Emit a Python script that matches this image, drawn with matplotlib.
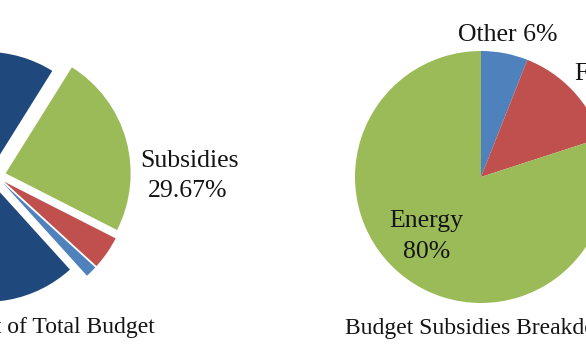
import matplotlib
matplotlib.use("Agg")
import matplotlib.pyplot as plt

W, H = 586, 346
plt.rcParams['font.family'] = ['Liberation Serif', 'DejaVu Serif']

# Left pie: share of total budget (slice sizes as drawn, %)
left_names = ["Subsidies", "Other A", "Other B", "Rest"]
left_shares = [23.6, 4.3, 1.5, 70.6]
left_colors = ["#9BBB59", "#C0504D", "#4F81BD", "#1F497D"]
left_explode = [0.08, 0.08, 0.08, 0.08]
subsidies_label = "Subsidies\n29.67%"
left_title = "Subsidies as Percent of Total Budget"

# Right pie: budget subsidies breakdown (%)
right_names = ["Other", "Food", "Energy"]
right_shares = [6, 14, 80]
right_colors = ["#4F81BD", "#C0504D", "#9BBB59"]
right_title = "Budget Subsidies Breakdown"

fig = plt.figure(figsize=(W / 100, H / 100), dpi=100)

def px_axes(cx, cy, r):
    half = 1.25 * r
    return fig.add_axes([(cx - half) / W, (H - cy - half) / H, 2 * half / W, 2 * half / H])

def fx(x):
    return x / W

def fy(y):
    return 1 - y / H

# left pie
axl = px_axes(-4, 176, 125)
axl.pie(left_shares, colors=left_colors, explode=left_explode, startangle=58,
        counterclock=False, wedgeprops=dict(linewidth=0))
axl.set_xlim(-1.25, 1.25); axl.set_ylim(-1.25, 1.25); axl.set_aspect('equal')
axl.axis('off')

# right pie
axr = px_axes(481, 177, 126)
axr.pie(right_shares, colors=right_colors, startangle=90, counterclock=False,
        wedgeprops=dict(linewidth=0))
axr.set_xlim(-1.25, 1.25); axr.set_ylim(-1.25, 1.25); axr.set_aspect('equal')
axr.axis('off')

fs = 18.5
fst = 17
tc = '#141414'
sub_lines = subsidies_label.split("\n")
fig.text(fx(189), fy(167), sub_lines[0], ha='center', va='baseline', fontsize=fs, color=tc)
fig.text(fx(188), fy(197), sub_lines[1], ha='center', va='baseline', fontsize=fs, color=tc)
fig.text(fx(155), fy(333), left_title, ha='right', va='baseline', fontsize=fst, color=tc)

fig.text(fx(508), fy(41), f"{right_names[0]} {right_shares[0]}%", ha='center', va='baseline', fontsize=fs, color=tc)
fig.text(fx(575), fy(80), f"{right_names[1]} {right_shares[1]}%", ha='left', va='baseline', fontsize=fs, color=tc)
fig.text(fx(426), fy(227), right_names[2], ha='center', va='baseline', fontsize=fs, color=tc)
fig.text(fx(427), fy(258), f"{right_shares[2]}%", ha='center', va='baseline', fontsize=fs, color=tc)
fig.text(fx(345), fy(334), right_title, ha='left', va='baseline', fontsize=fst, color=tc)

fig.savefig("out.png", dpi=100)
